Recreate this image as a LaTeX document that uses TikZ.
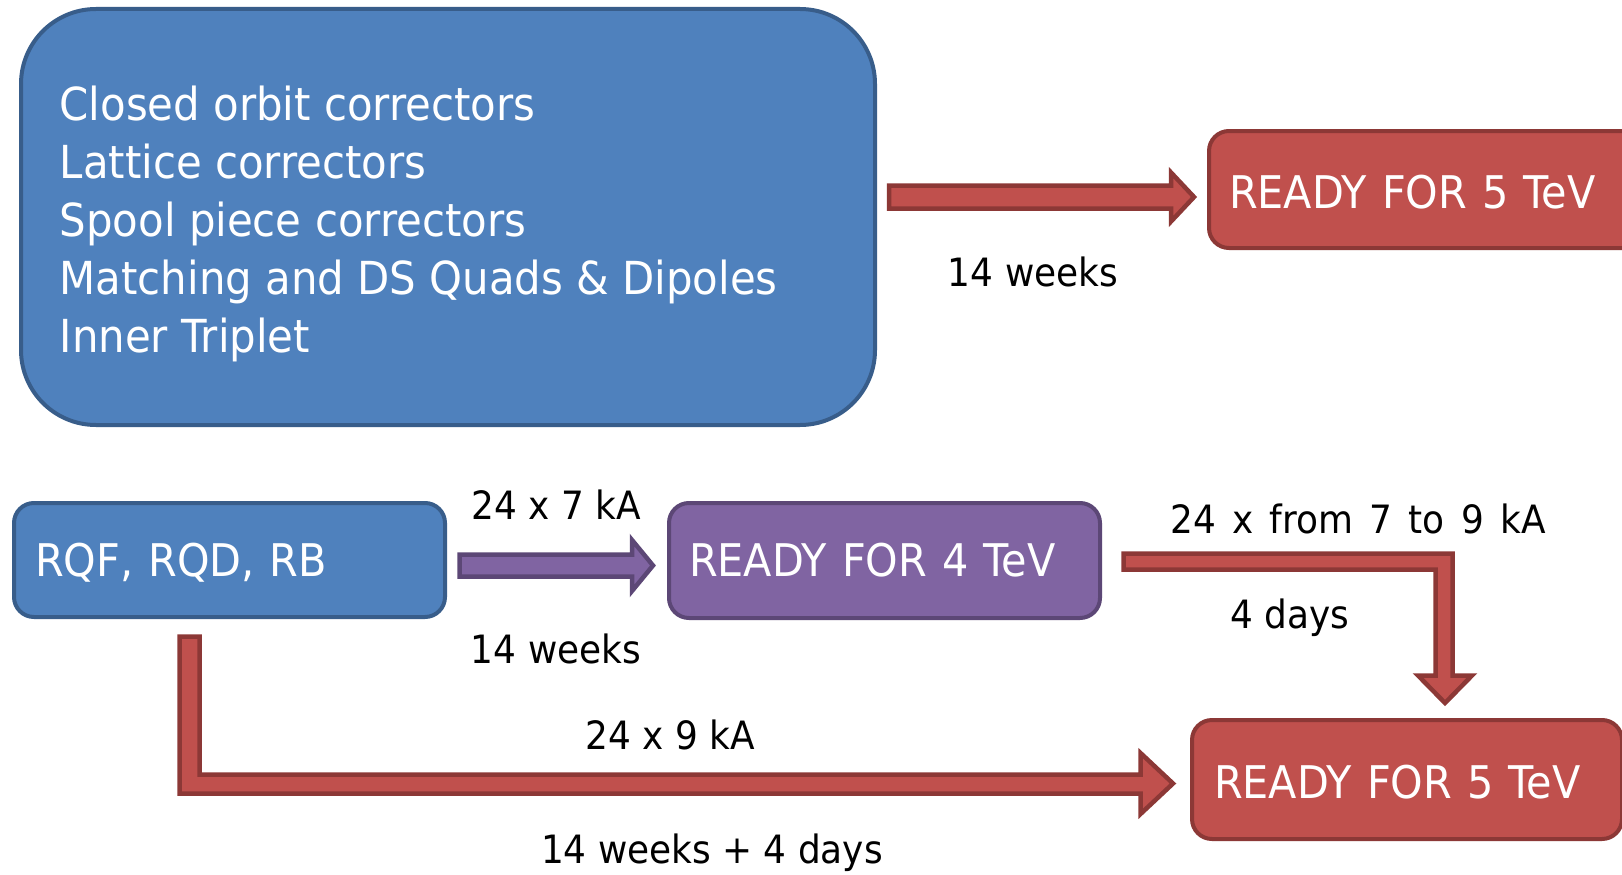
\documentclass[tikz,border=0pt]{standalone}
\usepackage{fontspec}
\setmainfont{DejaVu Sans}[FakeStretch=0.92]
\definecolor{bfill}{HTML}{4F81BD}
\definecolor{bline}{HTML}{385D8A}
\definecolor{rfill}{HTML}{C0504D}
\definecolor{rline}{HTML}{8C3836}
\definecolor{pfill}{HTML}{8064A2}
\definecolor{pline}{HTML}{5C4776}
\begin{document}
\begin{tikzpicture}[x=1pt,y=-1pt,
  boxbase/.style={draw, line width=4pt, rounded corners=20pt, text=white,
    inner ysep=0pt, text height=32pt, text depth=0pt, align=left,
    font=\fontsize{45}{52}\selectfont, anchor=west},
  bluebox/.style={boxbase, fill=bfill, draw=bline},
  redbox/.style={boxbase, fill=rfill, draw=rline, text height=38pt},
  purplebox/.style={boxbase, fill=pfill, draw=pline},
  lbl/.style={inner sep=0pt, text height=28pt, text depth=0pt,
    font=\fontsize{39}{46}\selectfont},
  redarrow/.style={fill=rfill, draw=rline, line width=4.5pt, line join=miter},
  purplearrow/.style={fill=pfill, draw=pline, line width=4.5pt, line join=miter}]
\clip (0,0) rectangle (1622,875);
\fill[white] (0,0) rectangle (1622,875);

% big box
\node[draw=bline, fill=bfill, line width=4pt, rounded corners=75pt,
  minimum width=854pt, minimum height=416pt, inner sep=0pt] (big) at (448,217) {};
\node[anchor=base west, align=left, inner sep=0pt, text=white,
  font=\fontsize{45.5}{58}\selectfont] (bigtext) at (59.5,352)
  {Closed orbit correctors\\Lattice correctors\\Spool piece correctors\\Matching and DS Quads \& Dipoles\\Inner Triplet};

% boxes
\node[redbox, minimum width=450pt, minimum height=117pt, inner xsep=20pt, text width=410pt] (r5top) at (1207,189.5) {READY FOR 5 TeV};
\node[bluebox, minimum width=431pt, minimum height=114pt, inner xsep=21pt, text width=389pt] (rqf) at (12,560) {RQF, RQD, RB};
\node[purplebox, minimum width=431pt, minimum height=115pt, inner xsep=20pt, text width=391pt] (r4) at (667,560.5) {READY FOR 4 TeV};
\node[redbox, minimum width=430pt, minimum height=119pt, inner xsep=22pt, text width=386pt] (r5bot) at (1190,779.5) {READY FOR 5 TeV};

% arrows
\draw[redarrow] (889,185.5) -- (1171,185.5) -- (1171,172.5) -- (1194,197) -- (1171,221.5) -- (1171,208.5) -- (889,208.5) -- cycle;
\draw[purplearrow] (459.5,554.5) -- (632,554.5) -- (632,540) -- (653,565.5) -- (632,591) -- (632,576.5) -- (459.5,576.5) -- cycle;
\draw[redarrow] (1123.5,553.5) -- (1452.5,553.5) -- (1452.5,675.5) -- (1472,675.5) -- (1445,703) -- (1418,675.5) -- (1435.5,675.5) -- (1435.5,569.5) -- (1123.5,569.5) -- cycle;
\draw[redarrow] (179.5,636.5) -- (199.5,636.5) -- (199.5,774.5) -- (1140.5,774.5) -- (1140.5,753) -- (1173,783.5) -- (1140.5,814) -- (1140.5,793.5) -- (179.5,793.5) -- cycle;

% labels
\node[lbl] (l1) at (1033,272) {14 weeks};
\node[lbl] (l2) at (556,505) {24 x 7 kA};
\node[lbl] (l3) at (556,649) {14 weeks};
\node[lbl] (l4) at (1358,519) {\spaceskip=0.42em\relax 24 x from 7 to 9 kA};
\node[lbl] (l5) at (1290,614) {4 days};
\node[lbl] (l6) at (670,735) {24 x 9 kA};
\node[lbl] (l7) at (712,849) {14 weeks + 4 days};
\end{tikzpicture}
\end{document}
